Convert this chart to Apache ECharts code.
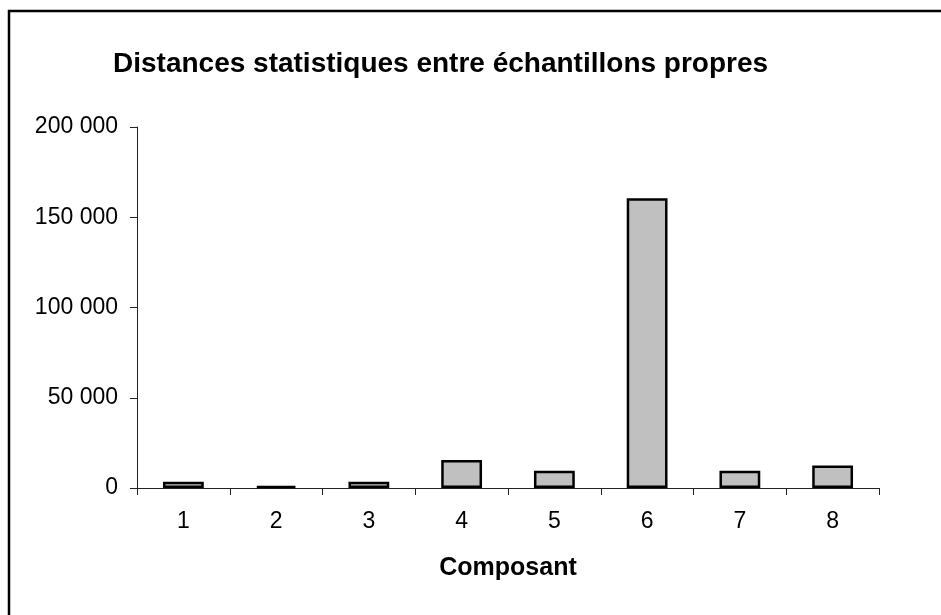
<!DOCTYPE html>
<html>
<head>
<meta charset="utf-8">
<script src="https://cdn.jsdelivr.net/npm/echarts@6/dist/echarts.min.js"></script>
<style>
html,body{margin:0;padding:0;background:#fff;}
#chart{width:941px;height:615px;}
</style>
</head>
<body>
<div id="chart"></div>
<script>
const categories = ['1', '2', '3', '4', '5', '6', '7', '8'];
const distances = [3500, 1200, 3500, 15500, 9500, 160500, 9500, 12500];
const yTicks = [0, 50000, 100000, 150000, 200000];

const chart = echarts.init(document.getElementById('chart'), null, {renderer: 'canvas'});
const fontFam = '"Liberation Sans", Arial, sans-serif';
function fmt(v) {
  return String(v).replace(/\B(?=(\d{3})+(?!\d))/g, ' ');
}
chart.setOption({
  animation: false,
  backgroundColor: '#ffffff',
  graphic: [{
    type: 'rect',
    shape: {x: 9, y: 11, width: 1000, height: 1000},
    style: {fill: 'none', stroke: '#000', lineWidth: 2.5},
    silent: true
  }],
  title: {
    text: 'Distances statistiques entre échantillons propres',
    left: 108,
    top: 45,
    textStyle: {fontFamily: fontFam, fontWeight: 'bold', fontSize: 28, color: '#000'}
  },
  grid: {left: 137, right: 62, top: 127, bottom: 127, containLabel: false},
  xAxis: {
    type: 'category',
    data: categories,
    name: 'Composant',
    nameLocation: 'middle',
    nameGap: 68,
    nameTextStyle: {fontFamily: fontFam, fontWeight: 'bold', fontSize: 25, color: '#000'},
    axisLine: {lineStyle: {color: '#222', width: 1}},
    axisTick: {show: true, length: 7, inside: false, alignWithLabel: false, lineStyle: {color: '#222'}},
    axisLabel: {fontFamily: fontFam, fontSize: 23, color: '#000', margin: 22}
  },
  yAxis: {
    type: 'value',
    min: yTicks[0],
    max: yTicks[yTicks.length - 1],
    interval: yTicks[1] - yTicks[0],
    axisLine: {show: true, lineStyle: {color: '#222', width: 1}},
    axisTick: {show: true, length: 7, inside: false, lineStyle: {color: '#222'}},
    splitLine: {show: false},
    axisLabel: {fontFamily: fontFam, fontSize: 23, color: '#000', margin: 19, formatter: fmt}
  },
  series: [{
    type: 'bar',
    data: distances,
    barWidth: '44%',
    itemStyle: {color: '#C0C0C0', borderColor: '#000', borderWidth: 2.5}
  }]
});
</script>
</body>
</html>
